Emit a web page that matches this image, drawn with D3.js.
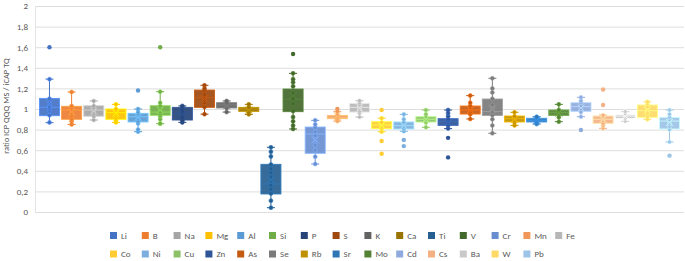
<!DOCTYPE html>
<html>
<head>
<meta charset="utf-8">
<script src="https://cdn.jsdelivr.net/npm/d3@7"></script>
<style>
body { margin: 0; background: #fff; }
text { font-family: Calibri, Carlito, "Liberation Sans", Arial, sans-serif; fill: #595959; }
</style>
</head>
<body>
<div class="chart"></div>
<script>
const WIDTH = 685;
const HEIGHT = 261;

// data
var elements = ["Li","B","Na","Mg","Al","Si","P","S","K","Ca","Ti","V","Cr","Mn","Fe",
	"Co","Ni","Cu","Zn","As","Se","Rb","Sr","Mo","Cd","Cs","Ba","W","Pb"];

var whiskerLow  = [0.867,0.85,0.893,0.87,0.78,0.857,0.87,0.95,0.97,0.948,0.042,0.806,0.466,0.883,0.922,
	0.78,0.783,0.822,0.81,0.903,0.764,0.841,0.854,0.877,0.925,0.812,0.88,0.9,0.68];
var q1          = [0.935,0.90,0.93,0.90,0.874,0.939,0.893,1.016,1.01,0.977,0.175,0.974,0.57,0.906,0.97,
	0.809,0.806,0.874,0.841,0.951,0.938,0.874,0.874,0.938,0.977,0.861,0.906,0.919,0.806];
var median      = [1.016,0.99,0.99,0.964,0.925,0.97,0.958,1.11,1.04,1.0,0.272,1.094,0.757,0.92,1.016,
	0.845,0.838,0.9,0.877,0.99,0.975,0.906,0.89,0.967,1.023,0.9,0.932,0.984,0.883];
var q3          = [1.103,1.026,1.032,1.0,0.958,1.032,1.016,1.184,1.061,1.016,0.463,1.194,0.825,0.938,1.055,
	0.877,0.874,0.925,0.906,1.029,1.097,0.932,0.91,0.99,1.061,0.932,0.948,1.039,0.919];
var whiskerHigh = [1.29,1.165,1.078,1.045,1.0,1.168,1.03,1.23,1.078,1.045,0.628,1.346,0.89,0.974,1.08,
	0.91,0.948,0.99,0.99,1.13,1.298,0.968,0.925,1.045,1.113,0.942,0.974,1.07,0.99];
var means       = [1.05,0.97,0.98,0.96,0.92,0.99,0.95,1.1,1.03,0.99,0.31,1.13,0.7,0.93,1.01,
	0.84,0.84,0.9,0.87,0.99,1.0,0.9,0.89,0.96,1.01,0.9,0.93,0.99,0.87];

var innerPoints = [
	[0.87,0.94,0.98,1.0,1.02,1.05,1.1,1.29],
	[0.85,0.88,0.9,0.93,0.96,0.99,1.01,1.03,1.165],
	[0.893,0.93,0.95,0.97,0.99,1.01,1.03,1.078],
	[0.87,0.89,0.91,0.94,0.96,0.98,1.0,1.045],
	[0.78,0.8,0.86,0.88,0.91,0.93,0.95,0.97,1.0],
	[0.857,0.86,0.9,0.93,0.95,0.97,1.0,1.03,1.06,1.168],
	[0.87,0.89,0.92,0.95,0.97,1.0,1.02,1.03],
	[0.95,1.02,1.06,1.09,1.11,1.14,1.18,1.2,1.23],
	[0.97,1.01,1.03,1.04,1.05,1.06,1.078],
	[0.948,0.97,0.99,1.0,1.01,1.016,1.045],
	[0.042,0.11,0.18,0.22,0.26,0.3,0.34,0.38,0.42,0.46,0.54,0.585,0.628],
	[0.806,0.84,0.88,0.922,0.98,1.05,1.1,1.15,1.22,1.26,1.29,1.346],
	[0.466,0.537,0.6,0.65,0.7,0.74,0.78,0.82,0.85,0.89],
	[0.883,0.9,0.91,0.92,0.93,0.94,0.974],
	[0.922,0.96,0.98,1.0,1.02,1.04,1.06,1.08],
	[0.78,0.81,0.83,0.85,0.87,0.91],
	[0.783,0.81,0.83,0.85,0.87,0.9,0.948],
	[0.822,0.87,0.89,0.9,0.92,0.95,0.99],
	[0.81,0.84,0.86,0.88,0.9,0.93,0.96,0.99],
	[0.903,0.95,0.97,0.99,1.01,1.03,1.06,1.13],
	[0.764,0.84,0.9,0.94,0.97,1.0,1.04,1.1,1.16,1.2,1.298],
	[0.841,0.87,0.89,0.91,0.93,0.968],
	[0.854,0.87,0.88,0.89,0.9,0.91,0.925],
	[0.877,0.92,0.95,0.97,0.99,1.045],
	[0.925,0.97,1.0,1.03,1.06,1.08,1.113],
	[0.812,0.84,0.86,0.89,0.91,0.94],
	[0.88,0.91,0.93,0.95,0.974],
	[0.9,0.93,0.96,0.99,1.02,1.05,1.07],
	[0.68,0.8,0.83,0.86,0.89,0.92,0.95,0.99]
];

var outliers = [
	[1.6],[],[],[],[1.18],[1.6],[],[],[],[],[],[1.534],[],[1.0],[],
	[0.99,0.69,0.566],[0.70,0.64],[],[0.72,0.53],[],[],[],[],[],[0.796],[1.19,1.039],[],[],[0.547]
];

var yTicks = [0,0.2,0.4,0.6,0.8,1,1.2,1.4,1.6,1.8,2];

// office palette, same order as the series
var palette = ["#4472C4","#ED7D31","#A5A5A5","#FFC000","#5B9BD5","#70AD47",
	"#264478","#9E480E","#636363","#997300","#255E91","#43682B",
	"#698ED0","#F1975A","#B7B7B7","#FFCD33","#7CAFDD","#8CC168",
	"#2F5597","#C55A11","#7B7B7B","#BF9000","#2E75B6","#548235",
	"#8FAADC","#F4B183","#C9C9C9","#FFD966","#9DC3E6"];

var PLOT_LEFT = 35, PLOT_RIGHT = 684, PLOT_TOP = 6, PLOT_BOTTOM = 212;

var translate = function(x, y){
	return "translate(" + x + "," + y + ")";
};

var svg = d3.select(".chart").append("svg")
	.attr("width", WIDTH)
	.attr("height", HEIGHT);

var xScale = d3.scaleBand()
	.domain(elements)
	.range([38.4, 680.6])
	.paddingInner(0.05)
	.paddingOuter(0.025);

var yScale = d3.scaleLinear()
	.domain([0, 2])
	.range([PLOT_BOTTOM, PLOT_TOP]);

var fmt = function(v){ return d3.format("~g")(v).replace(".", ","); };

// gridlines + labels
var yAxis = d3.axisLeft(yScale)
	.tickValues(yTicks)
	.tickSize(-(PLOT_RIGHT - PLOT_LEFT))
	.tickPadding(7)
	.tickFormat(fmt);

var gy = svg.append("g")
	.attr("transform", translate(PLOT_LEFT, 0))
	.call(yAxis);
gy.select(".domain").attr("stroke", "#e4e4e4");
gy.selectAll(".tick line").attr("stroke", "#dedede");
gy.selectAll(".tick text").style("font-size", "9px").attr("fill", "#595959");

svg.append("text")
	.attr("transform", translate(9, 106) + " rotate(-90)")
	.attr("text-anchor", "middle")
	.style("font-size", "8.5px")
	.text("ratio ICP QQQ MS / iCAP TQ");

// boxes
var series = svg.append("g").selectAll("g")
	.data(elements)
	.enter().append("g");

series.each(function(name, i){
	var g = d3.select(this);
	var col = palette[i];
	var light = d3.color(col).brighter(0.7).formatHex();
	var x0 = xScale(name);
	var w = xScale.bandwidth();
	var cx = x0 + w / 2;
	var cap = 4;

	g.append("line")
		.attr("x1", cx).attr("x2", cx)
		.attr("y1", yScale(q3[i])).attr("y2", yScale(whiskerHigh[i]))
		.attr("stroke", col).attr("stroke-width", 1);
	g.append("line")
		.attr("x1", cx).attr("x2", cx)
		.attr("y1", yScale(q1[i])).attr("y2", yScale(whiskerLow[i]))
		.attr("stroke", col).attr("stroke-width", 1);
	[whiskerHigh[i], whiskerLow[i]].forEach(function(v){
		g.append("line")
			.attr("x1", cx - cap).attr("x2", cx + cap)
			.attr("y1", yScale(v)).attr("y2", yScale(v))
			.attr("stroke", col).attr("stroke-width", 1);
	});

	g.append("rect")
		.attr("x", x0 + 0.5)
		.attr("y", yScale(q3[i]))
		.attr("width", w - 1)
		.attr("height", Math.max(1, yScale(q1[i]) - yScale(q3[i])))
		.attr("fill", col)
		.attr("fill-opacity", 0.92)
		.attr("stroke", light)
		.attr("stroke-width", 0.9);

	g.append("line")
		.attr("x1", x0 + 1).attr("x2", x0 + w - 1)
		.attr("y1", yScale(median[i])).attr("y2", yScale(median[i]))
		.attr("stroke", light).attr("stroke-width", 0.9);

	g.selectAll(".pt")
		.data(innerPoints[i])
		.enter().append("circle")
		.attr("class", "pt")
		.attr("cx", cx)
		.attr("cy", function(d){ return yScale(d); })
		.attr("r", 2)
		.attr("fill", col)
		.attr("stroke", light)
		.attr("stroke-width", 0.6);

	var my = yScale(means[i]);
	g.append("path")
		.attr("d", "M" + (cx - 3.5) + "," + (my - 3.5) + "L" + (cx + 3.5) + "," + (my + 3.5) +
			"M" + (cx - 3.5) + "," + (my + 3.5) + "L" + (cx + 3.5) + "," + (my - 3.5))
		.attr("stroke", light).attr("stroke-width", 0.9).attr("fill", "none");

	g.selectAll(".out")
		.data(outliers[i])
		.enter().append("circle")
		.attr("class", "out")
		.attr("cx", cx)
		.attr("cy", function(d){ return yScale(d); })
		.attr("r", 2.2)
		.attr("fill", col);
});

// legend, two rows of 15 columns
var legend = svg.append("g").selectAll("g")
	.data(elements)
	.enter().append("g")
	.attr("transform", function(d, i){
		return translate(110 + (i % 15) * 31.8, i < 15 ? 232 : 250.5);
	});

legend.append("rect")
	.attr("width", 7).attr("height", 7)
	.attr("fill", function(d, i){ return palette[i]; });

legend.append("text")
	.attr("x", 11).attr("y", 6.5)
	.style("font-size", "9px")
	.text(function(d){ return d; });
</script>
</body>
</html>
